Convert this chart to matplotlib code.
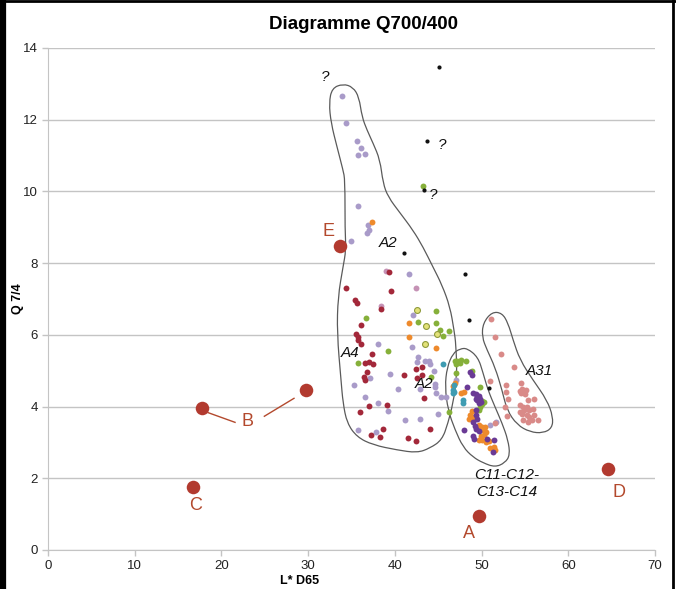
import matplotlib
matplotlib.use("Agg")
import matplotlib.pyplot as plt
from matplotlib.path import Path
from matplotlib.patches import PathPatch
from matplotlib.lines import Line2D

plt.rcParams['font.family'] = ['Liberation Sans', 'DejaVu Sans']

# points par groupe (L* D65, Q 7/4)
lavande_x = [33.9, 34.4, 35.6, 36.1, 35.8, 36.5, 35.7, 36.9, 37.0, 36.8, 34.9, 41.6, 42.1, 38.0, 42.0,
             42.7, 42.6, 43.5, 43.9, 44.0, 44.5, 37.1, 35.3, 39.4, 40.4, 42.9, 44.6, 44.8, 45.3, 45.9,
             36.6, 38.1, 39.2, 45.0, 41.2, 42.9, 35.8, 37.8, 47.1, 51.7, 51.0, 44.6]
lavande_y = [12.65, 11.9, 11.4, 11.2, 11.02, 11.03, 9.59, 9.07, 8.92, 8.85, 8.62, 7.70, 6.56, 5.74, 5.67,
             5.37, 5.25, 5.26, 5.28, 5.19, 5.0, 4.79, 4.61, 4.92, 4.48, 4.48, 4.55, 4.37, 4.26, 4.26,
             4.28, 4.09, 3.88, 3.78, 3.63, 3.64, 3.35, 3.30, 4.74, 3.56, 3.49, 4.63]

mauve_x = [39.0, 42.4, 38.4]
mauve_y = [7.79, 7.30, 6.80]

rouge_x = [39.3, 34.4, 39.6, 35.4, 35.6, 38.4, 36.1, 35.5, 35.7, 35.7, 36.1, 37.4, 36.5, 37.0, 37.5,
           36.8, 41.1, 42.4, 43.1, 42.5, 36.4, 36.5, 43.4, 37.0, 39.1, 36.0, 44.1, 38.6, 37.3, 38.3,
           41.5, 42.4, 43.1]
rouge_y = [7.75, 7.32, 7.22, 6.96, 6.90, 6.73, 6.27, 6.01, 5.94, 5.86, 5.75, 5.48, 5.22, 5.24, 5.19,
           4.96, 4.89, 5.04, 4.87, 4.81, 4.82, 4.74, 4.25, 4.02, 4.03, 3.85, 3.37, 3.37, 3.20, 3.14,
           3.12, 3.05, 5.11]

vert_x = [43.2, 44.7, 36.7, 42.7, 44.8, 45.2, 46.2, 45.6, 39.2, 35.7, 44.2, 46.2, 46.9, 47.2, 47.6,
          48.2, 47.1, 47.5, 48.9, 47.1, 49.8, 50.1, 50.3, 50.0, 49.8, 49.7]
vert_y = [10.16, 6.67, 6.47, 6.36, 6.34, 6.13, 6.12, 5.97, 5.56, 5.21, 4.83, 3.85, 5.28, 5.28, 5.30,
          5.28, 5.19, 5.21, 5.0, 4.94, 4.55, 4.16, 4.12, 4.07, 4.0, 3.90]

jaune_x = [42.5, 43.6, 44.9, 43.5]
jaune_y = [6.69, 6.26, 6.03, 5.74]

orange_x = [37.4, 41.6, 41.6, 44.8, 46.9, 46.7, 48.0, 47.6, 48.7, 49.05, 48.6, 48.9, 49.7, 49.9,
            50.1, 50.2, 50.4, 50.5, 50.3, 49.9, 49.7, 50.0, 50.5, 50.9, 51.4, 51.0, 51.5]
orange_y = [9.16, 6.32, 5.94, 5.62, 4.65, 4.58, 4.42, 4.37, 3.76, 3.72, 3.66, 3.88, 3.50, 3.44,
            3.44, 3.36, 3.42, 3.29, 3.20, 3.18, 3.08, 3.07, 3.01, 3.03, 2.86, 2.84, 2.79]

violet_x = [48.7, 48.9, 48.3, 49.0, 49.3, 49.5, 49.7, 49.8, 49.5, 49.9, 49.7, 49.3, 49.4, 49.4,
            49.5, 49.05, 49.2, 49.4, 49.7, 48.0, 49.05, 49.1, 50.6, 51.4, 51.3]
violet_y = [4.96, 4.89, 4.54, 4.38, 4.36, 4.28, 4.30, 4.22, 4.18, 4.14, 4.10, 4.20, 3.90, 3.76,
            3.64, 3.58, 3.46, 3.37, 3.33, 3.35, 3.18, 3.10, 3.09, 3.07, 2.73]

turquoise_x = [45.5, 46.8, 46.8, 47.9, 47.9, 46.7, 46.7]
turquoise_y = [5.19, 4.59, 4.40, 4.17, 4.09, 4.46, 4.37]

noir_x = [45.06, 43.7, 43.4, 41.06, 48.05, 48.5, 50.9]
noir_y = [13.46, 11.4, 10.05, 8.29, 7.69, 6.41, 4.51]

rose_x = [51.05, 51.5, 52.2, 53.7, 51.0, 52.8, 54.6, 52.8, 54.4, 54.7, 55.1, 54.6, 55.0, 53.0, 56.0,
          55.3, 54.4, 54.8, 55.2, 55.9, 55.5, 54.9, 52.7, 54.4, 54.7, 55.2, 55.5, 56.1, 56.5, 55.8,
          55.3, 52.9, 54.8, 51.6]
rose_y = [6.43, 5.93, 5.48, 5.11, 4.70, 4.59, 4.65, 4.42, 4.44, 4.50, 4.46, 4.37, 4.35, 4.20, 4.22,
          4.18, 4.04, 4.0, 3.98, 3.92, 3.90, 3.90, 4.0, 3.86, 3.80, 3.77, 3.72, 3.77, 3.62, 3.63,
          3.58, 3.74, 3.63, 3.53]

# points de référence A-E
ref_noms = ['E', 'B', 'B', 'C', 'A', 'D']
ref_x = [33.7, 17.8, 29.8, 16.7, 49.7, 64.6]
ref_y = [8.48, 3.96, 4.46, 1.76, 0.95, 2.26]

# contours dessinés à la main
contour_a2_x = [34.02, 35.17, 35.87, 36.21, 36.79, 37.48, 38.29, 38.63, 39.21, 40.60, 42.09, 43.25,
                44.40, 45.44, 46.36, 46.82, 47.05, 47.17, 46.71, 46.13, 45.44, 44.05, 42.56, 40.25,
                37.48, 35.63, 34.48, 34.02, 33.79, 33.33, 33.44, 34.02, 34.37, 34.25, 34.25, 34.02,
                33.33, 32.64, 32.41, 32.75]
contour_a2_y = [13.00, 12.91, 12.63, 12.08, 11.71, 11.35, 10.88, 10.24, 9.85, 9.40, 8.92, 8.45,
                7.89, 7.39, 6.78, 6.14, 5.72, 4.82, 4.10, 3.54, 3.07, 2.84, 2.71, 2.79,
                2.93, 3.15, 3.54, 4.10, 4.74, 6.05, 7.06, 7.89, 8.37, 8.92, 10.32, 10.60,
                11.24, 11.91, 12.47, 12.88]
contour_c_x = [48.32, 49.59, 50.17, 50.74, 51.55, 52.36, 53.05, 53.28, 52.70, 51.55, 50.17, 49.01,
               47.86, 46.94, 46.13, 45.78, 46.02, 46.71, 47.51]
contour_c_y = [5.63, 5.38, 4.94, 4.46, 3.99, 3.54, 3.07, 2.65, 2.43, 2.31, 2.43, 2.59,
               2.87, 3.35, 3.90, 4.55, 5.10, 5.49, 5.61]
contour_a31_x = [51.20, 52.36, 53.05, 53.63, 54.43, 55.93, 57.55, 58.24, 58.13, 57.09, 55.59, 54.09,
                 52.93, 52.36, 51.55, 50.63, 50.05, 50.17]
contour_a31_y = [6.64, 6.61, 6.33, 5.86, 5.30, 4.74, 4.18, 3.71, 3.40, 3.26, 3.29, 3.49,
                 3.90, 4.46, 5.10, 5.58, 5.94, 6.33]

etiquettes = [('?', 32.0, 13.2), ('?', 45.5, 11.3), ('?', 44.4, 9.9), ('A2', 39.2, 8.57),
              ('A4', 34.8, 5.5), ('A2', 43.4, 4.64), ('A31', 56.7, 5.0),
              ('C11-C12-\nC13-C14', 52.9, 1.85)]
lettres = [('E', 32.3, 8.87), ('B', 22.95, 3.57), ('C', 17.07, 1.23), ('A', 48.55, 0.47), ('D', 65.85, 1.59)]


def contour_lisse(xs, ys):
    # courbe fermée : sommets = points de contrôle, milieux = points de passage
    pts = list(zip(xs, ys))
    n = len(pts)
    mids = [((pts[i][0] + pts[(i + 1) % n][0]) / 2, (pts[i][1] + pts[(i + 1) % n][1]) / 2) for i in range(n)]
    verts = [mids[-1]]
    codes = [Path.MOVETO]
    for i in range(n):
        verts += [pts[i], mids[i]]
        codes += [Path.CURVE3, Path.CURVE3]
    return Path(verts, codes)


fig = plt.figure(figsize=(6.76, 5.89), dpi=100)
ax = fig.add_axes([48 / 676, 39 / 589, 607 / 676, 502 / 589])

gris = '#c4c4c4'
ax.set_xlim(0, 70)
ax.set_ylim(0, 14)
ax.set_xticks(range(0, 71, 10))
ax.set_yticks(range(0, 15, 2))
ax.grid(axis='y', color=gris, lw=1)
ax.set_axisbelow(True)
for s in ['top', 'right']:
    ax.spines[s].set_visible(False)
for s in ['left', 'bottom']:
    ax.spines[s].set_color(gris)
ax.tick_params(axis='both', colors=gris, labelcolor='#222222', labelsize=9.5, length=4, width=1)
ax.tick_params(axis='x', pad=3)

for xs, ys in [(contour_a2_x, contour_a2_y), (contour_c_x, contour_c_y), (contour_a31_x, contour_a31_y)]:
    ax.add_patch(PathPatch(contour_lisse(xs, ys), fill=False, edgecolor='#5a5a5a', lw=0.9, zorder=2))

s = 18
ax.scatter(lavande_x, lavande_y, s=s, color='#a99bc9', zorder=3, lw=0)
ax.scatter(mauve_x, mauve_y, s=s, color='#c592b5', zorder=3, lw=0)
ax.scatter(rouge_x, rouge_y, s=s, color='#a3283a', zorder=3, lw=0)
ax.scatter(vert_x, vert_y, s=s, color='#86b03a', zorder=3, lw=0)
ax.scatter(jaune_x, jaune_y, s=s, color='#e3e27a', edgecolor='#8f9a3c', lw=0.8, zorder=3)
ax.scatter(orange_x, orange_y, s=s, color='#ee8a2c', zorder=3, lw=0)
ax.scatter(violet_x, violet_y, s=s, color='#6a3a95', zorder=3, lw=0)
ax.scatter(turquoise_x, turquoise_y, s=s, color='#3f9cb2', zorder=3, lw=0)
ax.scatter(rose_x, rose_y, s=s, color='#d98a88', zorder=3, lw=0)
ax.scatter(noir_x, noir_y, s=9, color='#111111', zorder=4, lw=0)

ax.scatter(ref_x, ref_y, s=95, color='#b23a2f', zorder=5, lw=0)
brun = '#b3492d'
ax.plot([18.47, 21.57], [3.83, 3.56], color=brun, lw=1)
ax.plot([24.95, 28.37], [3.73, 4.23], color=brun, lw=1)
for t, x, y in lettres:
    ax.text(x, y, t, color=brun, fontsize=13, ha='center', va='center')
for t, x, y in etiquettes:
    ax.text(x, y, t, fontsize=11, style='italic', ha='center', va='center', color='#111111',
            linespacing=1.3)

ax.set_title('Diagramme Q700/400', fontsize=13.5, fontweight='bold', x=0.52, y=1.0, pad=14)
ax.set_xlabel('L* D65', fontsize=9, fontweight='bold')
ax.set_ylabel('Q 7/4', fontsize=9, fontweight='bold')
ax.xaxis.set_label_coords(0.415, -0.05)
ax.yaxis.set_label_coords(-0.04, 0.5)

# cadre noir de l'image
fig.add_artist(Line2D([0.004, 0.004], [0, 1], transform=fig.transFigure, color='black', lw=4.5))
fig.add_artist(Line2D([0, 1], [0.998, 0.998], transform=fig.transFigure, color='black', lw=2))
fig.add_artist(Line2D([0.995, 0.995], [0, 1], transform=fig.transFigure, color='black', lw=2))

fig.savefig('out.png', dpi=100)
